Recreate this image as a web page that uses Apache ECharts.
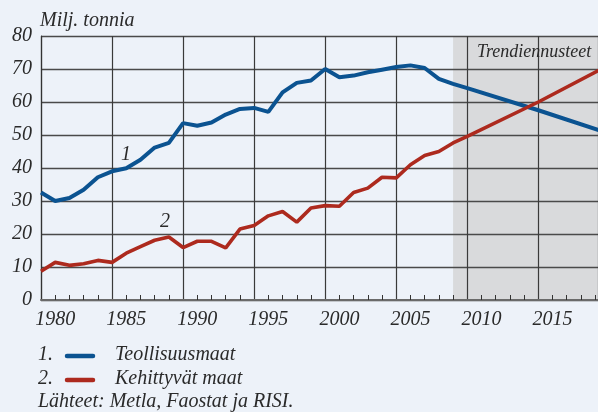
<!DOCTYPE html>
<html>
<head>
<meta charset="utf-8">
<script src="https://cdn.jsdelivr.net/npm/echarts@6/dist/echarts.min.js"></script>
<style>
html,body{margin:0;padding:0;background:#edf2f9;}
#c{width:598px;height:412px;}
</style>
</head>
<body>
<div id="c"></div>
<script>
// Historical years
var years = [1979,1980,1981,1982,1983,1984,1985,1986,1987,1988,1989,1990,1991,1992,1993,1994,1995,1996,1997,1998,1999,2000,2001,2002,2003,2004,2005,2006,2007,2008];
// 1. Teollisuusmaat (Mt)
var industrial = [32.6,30.0,30.9,33.4,37.2,39.0,39.9,42.5,46.2,47.6,53.6,52.8,53.8,56.2,57.9,58.2,57.0,62.9,65.8,66.5,70.0,67.5,68.0,69.0,69.8,70.6,71.1,70.3,67.0,65.5];
// 2. Kehittyvät maat (Mt)
var developing = [8.7,11.4,10.5,11.0,12.0,11.4,14.2,16.2,18.1,19.1,15.9,17.8,17.8,15.8,21.5,22.6,25.5,26.8,23.6,27.9,28.6,28.4,32.6,33.9,37.2,37.0,41.0,43.8,45.0,47.6];
// Trend projection points
var trendYears = [2009, 2014, 2019];
var industrialTrend = [64.2, 57.5, 50.4];
var developingTrend = [49.6, 60.0, 71.3];
var forecastStart = 2008;
var xMin = 1979, xMax = 2018.2;
var xLabels = [1980,1985,1990,1995,2000,2005,2010,2015];
var tickYears = [1980,1981,1982,1983,1985,1986,1987,1988,1990,1991,1992,1993,1995,1996,1997,1998,2000,2001,2002,2003,2005,2006,2007,2008,2010,2011,2012,2013,2015,2016,2017,2018];

function zip(xs, vs){ return xs.map(function(x,i){ return [x, vs[i]]; }); }
var blueData = zip(years, industrial).concat(zip(trendYears, industrialTrend));
var redData = zip(years, developing).concat(zip(trendYears, developingTrend));

var font = 'Liberation Serif';
var FS = 20;
var txt = {fontFamily: font, fontStyle: 'italic', fontSize: FS, fill: '#2a2a2a'};
function T(x, y, s, extra){
  var st = Object.assign({}, txt, {text: s}, extra || {});
  return {type:'text', left:x, top:y, style: st, z: 10};
}

var chart = echarts.init(document.getElementById('c'));
chart.setOption({
  backgroundColor: '#edf2f9',
  animation: false,
  grid: {left: 41, top: 36, bottom: 112, right: 0, containLabel: false, outerBoundsMode: 'none'},
  xAxis: [{
    type: 'value', min: xMin, max: xMax, interval: 5,
    axisLine: {show: true, lineStyle: {color: '#6a6a6a', width: 2}},
    axisTick: {show: false},
    axisLabel: {customValues: xLabels, margin: 10, fontFamily: font, fontStyle: 'italic', fontSize: FS, color: '#2a2a2a', formatter: function(v){return String(v);}},
    splitLine: {show: true, lineStyle: {color: '#3a3a3a', width: 1.2}}
  }, {
    type: 'value', min: xMin, max: xMax, position: 'bottom',
    axisLine: {show: false},
    axisTick: {show: true, inside: true, length: 5, customValues: tickYears, lineStyle: {color: '#333', width: 1}},
    axisLabel: {show: false},
    splitLine: {show: false}
  }],
  yAxis: {
    type: 'value', min: 0, max: 80, interval: 10,
    axisLine: {show: true, lineStyle: {color: '#333', width: 1.2}},
    axisTick: {show: false},
    axisLabel: {margin: 9, fontFamily: font, fontStyle: 'italic', fontSize: FS, color: '#2a2a2a'},
    splitLine: {show: true, lineStyle: {color: '#4a4a4a', width: 1.4}}
  },
  series: [
    {
      type: 'line', z: -1, data: [], silent: true,
      markArea: {silent: true, z: -1, itemStyle: {color: '#d9dadc'}, data: [[{xAxis: forecastStart}, {xAxis: xMax}]]}
    },
    {type: 'line', data: blueData, symbol: 'none', lineStyle: {color: '#0b5391', width: 4}, z: 3},
    {type: 'line', data: redData, symbol: 'none', lineStyle: {color: '#ad2a1e', width: 3.6}, z: 4}
  ],
  graphic: [
    T(40, 11, 'Milj. tonnia'),
    T(477, 43, 'Trendiennusteet', {fontSize: 18}),
    T(121, 145, '1'),
    T(160, 212, '2'),
    T(38, 345, '1.'),
    T(38, 369, '2.'),
    T(115, 345, 'Teollisuusmaat'),
    T(115, 369, 'Kehittyvät maat'),
    T(38, 392, 'Lähteet: Metla, Faostat ja RISI.'),
    {type:'line', shape:{x1:67,y1:356,x2:93,y2:356}, style:{stroke:'#0b5391', lineWidth:4.5, lineCap:'round'}, z:10},
    {type:'line', shape:{x1:67,y1:380,x2:93,y2:380}, style:{stroke:'#ad2a1e', lineWidth:4.5, lineCap:'round'}, z:10}
  ]
});
</script>
</body>
</html>
